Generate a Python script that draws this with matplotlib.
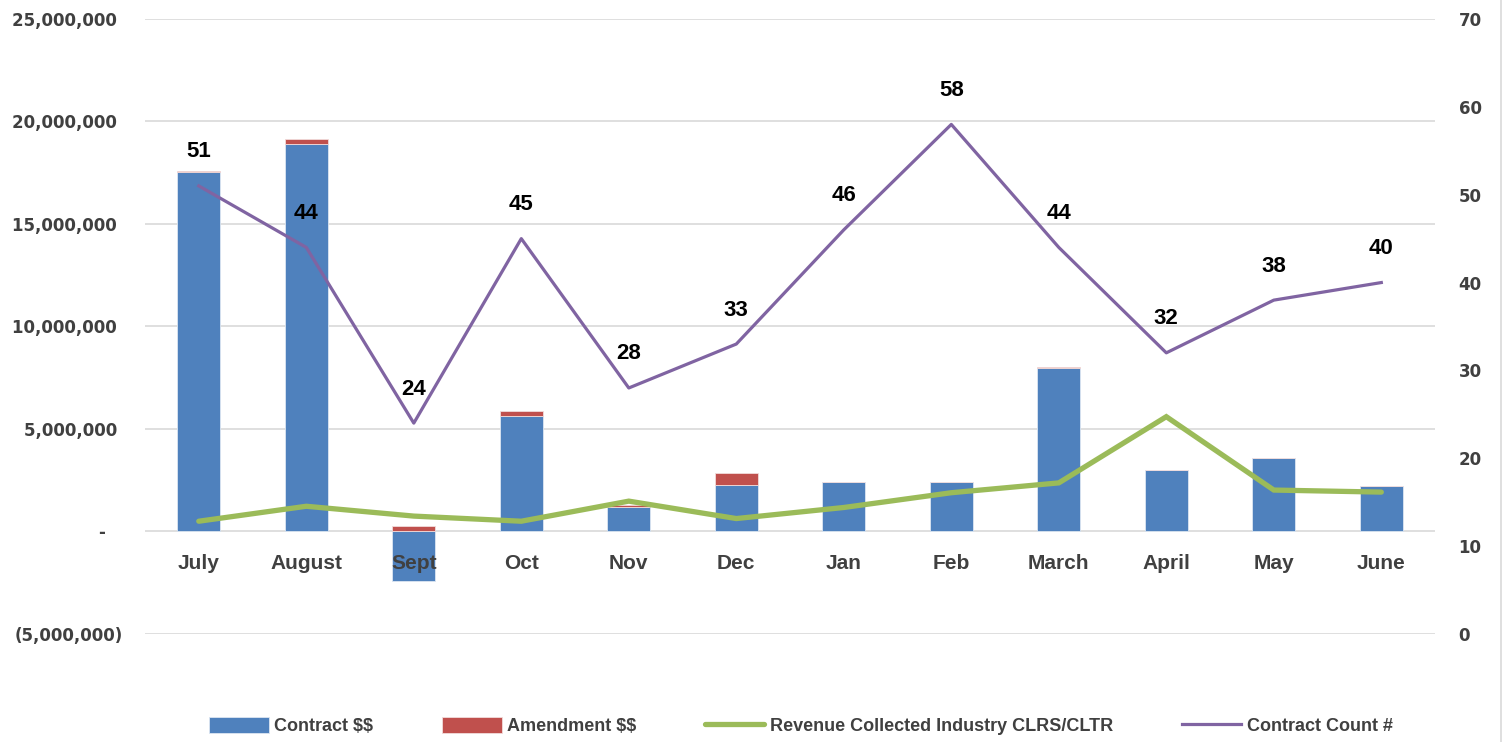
import matplotlib
matplotlib.use('Agg')

import matplotlib.pyplot as plt
from matplotlib.ticker import FuncFormatter, MultipleLocator
from matplotlib.lines import Line2D
import numpy as np

plt.rcParams['text.parse_math'] = False

# data
months = ['July', 'August', 'Sept', 'Oct', 'Nov', 'Dec',
          'Jan', 'Feb', 'March', 'April', 'May', 'June']
contract = [17530000, 18880000, -2400000, 5620000, 1190000, 2280000,
            2390000, 2390000, 7990000, 3020000, 3560000, 2210000]
amendment = [70000, 290000, 250000, 280000, 80000, 570000,
             0, 0, 30000, 0, 0, 0]
revenue = [500000, 1230000, 750000, 500000, 1480000, 630000,
           1170000, 1890000, 2370000, 5600000, 2020000, 1920000]
count = [51, 44, 24, 45, 28, 33, 46, 58, 44, 32, 38, 40]

BLUE = '#4f81bd'
RED = '#c0504d'
GREEN = '#9bbb59'
PURPLE = '#8064a2'
GRID = '#d9d9d9'
TXT = '#404040'
LABEL_FONT = 'Liberation Sans'

fig = plt.figure(figsize=(15.06, 7.42), dpi=100)
ax = fig.add_axes([0.0963, 0.1456, 0.8566, 0.8288])
ax2 = ax.twinx()

x = np.arange(len(months))
contract = np.array(contract)
amendment = np.array(amendment)
# amendment stacks on top of positive contract, sits above zero for negatives
amend_base = np.where(contract > 0, contract, 0)

b1 = ax.bar(x, contract, width=0.4, color=BLUE, edgecolor='#dce6f2',
            linewidth=0.6, zorder=2, label='Contract $$')
b2 = ax.bar(x, amendment, width=0.4, bottom=amend_base, color=RED,
            edgecolor='#f2dcdb', linewidth=0.6, zorder=2, label='Amendment $$')
l1, = ax.plot(x, revenue, color=GREEN, lw=3.8, solid_capstyle='round',
              solid_joinstyle='miter', zorder=3,
              label='Revenue Collected Industry CLRS/CLTR')

l2, = ax2.plot(x, count, color=PURPLE, lw=2.3, zorder=3,
               label='Contract Count #')
for xi, c in zip(x, count):
    ax2.annotate(str(c), (xi, c), xytext=(0, 24.5), textcoords='offset points',
                 ha='center', va='center', fontsize=16, fontweight='bold',
                 family=LABEL_FONT, color='black')

ax.set_xlim(-0.5, len(months) - 0.5)
ax.set_ylim(-5000000, 25000000)
ax2.set_ylim(0, 70)
ax.yaxis.set_major_locator(MultipleLocator(5000000))
ax2.yaxis.set_major_locator(MultipleLocator(10))


def money(v, pos):
    if v == 0:
        return '-   '
    if v < 0:
        return '({:,.0f})'.format(-v)
    return '{:,.0f} '.format(v)


ax.yaxis.set_major_formatter(FuncFormatter(money))
ax.grid(axis='y', color=GRID, lw=1.2, zorder=0)
ax.set_axisbelow(True)

for a in (ax, ax2):
    for s in a.spines.values():
        s.set_visible(False)
    a.tick_params(length=0)

ax.tick_params(axis='y', pad=16, labelsize=12, labelcolor=TXT)
for t in ax.get_yticklabels():
    t.set_fontweight('bold')
ax2.tick_params(axis='y', pad=17, labelsize=12, labelcolor=TXT)
for t in ax2.get_yticklabels():
    t.set_fontweight('bold')

# category axis crosses at zero, labels drawn over the bars
ax.spines['bottom'].set_position(('data', 0))
ax.set_xticks(x)
ax.set_xticklabels(months, fontsize=15, fontweight='bold', family=LABEL_FONT,
                   color=TXT)
ax.tick_params(axis='x', pad=16)
ax.xaxis.set_zorder(5)

leg = fig.legend([b1, b2, l1, l2],
                 [b1.get_label(), b2.get_label(), l1.get_label(), l2.get_label()],
                 loc='center', ncol=4,
                 bbox_to_anchor=(801 / 1506, 0.0216), frameon=False,
                 handlelength=3.3, handleheight=1.0, columnspacing=3.8,
                 handletextpad=0.3,
                 prop={'family': LABEL_FONT, 'weight': 'bold', 'size': 13})
for t in leg.get_texts():
    t.set_color(TXT)

fig.add_artist(Line2D([0.9967, 0.9967], [0, 1], color=GRID, lw=1.2))

plt.savefig('out.png', dpi=100)
